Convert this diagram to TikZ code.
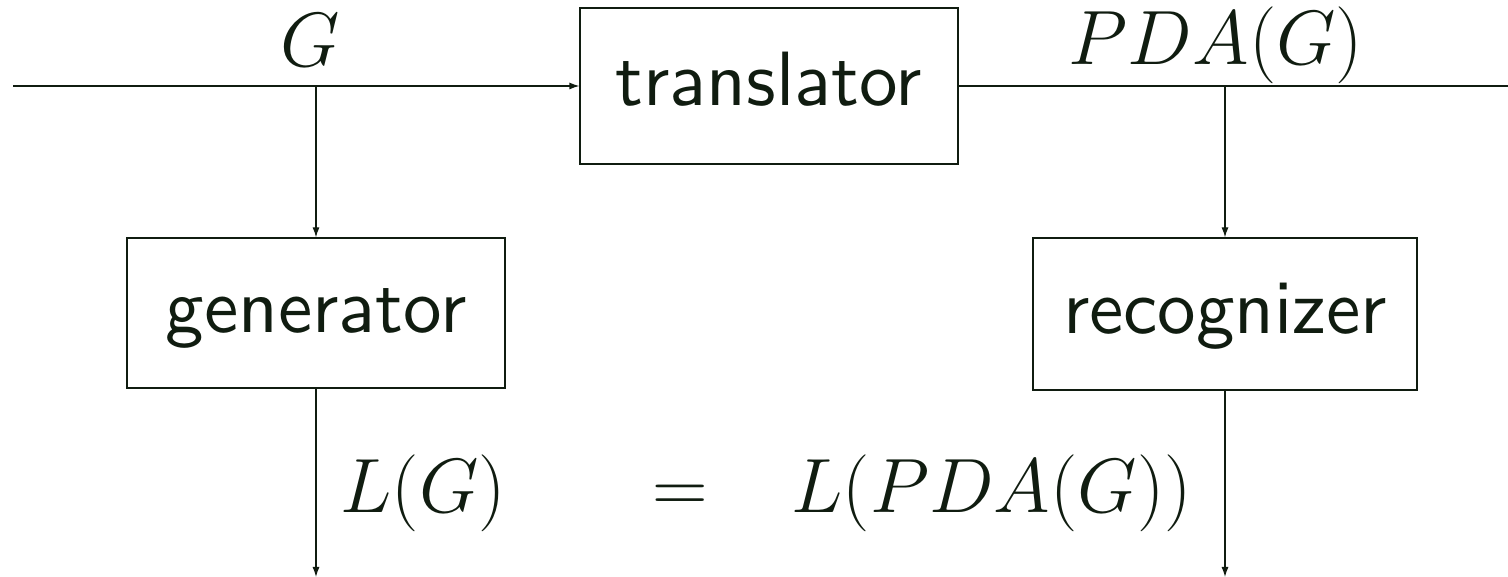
\RequirePackage{fix-cm}
\documentclass[tikz,border=0pt]{standalone}
\usepackage{fontspec}
\newfontfamily\sansten{lmsans10-regular}[Extension=.otf]
\usetikzlibrary{arrows.meta}
\definecolor{ink}{RGB}{16,28,16}
\begin{document}
\begin{tikzpicture}[x=1pt,y=1pt,
  ink, line width=1.2pt,
  every node/.style={ink},
  blockbox/.style={draw, inner sep=0pt, text height=40pt, text depth=0pt,
    font=\fontsize{77}{80}\selectfont\sansten},
  mathlbl/.style={inner sep=0pt, font=\fontsize{77}{80}\selectfont},
  flow/.style={-{Latex[length=10pt,width=7pt]}}]
\useasboundingbox (0,0) rectangle (1508,577);
% boxes
\node[blockbox, minimum width=378pt, minimum height=156pt] (trans) at (769,491) {translator};
\node[blockbox, minimum width=378pt, minimum height=150pt] (gen) at (316,264) {generator};
\node[blockbox, minimum width=384pt, minimum height=152pt] (rec) at (1225,263) {recognizer};
% coordinates
\coordinate (in) at (13,491);
\coordinate (out) at (1508,491);
\coordinate (b1) at (316,491);
\coordinate (b2) at (1225,491);
\coordinate (e1) at (316,0);
\coordinate (e2) at (1225,0);
% connectors
\draw[flow] (in) -- (trans.west);
\draw (trans.east) -- (out);
\draw[flow] (b1) -- (gen.north);
\draw[flow] (b2) -- (rec.north);
\draw[flow] (gen.south) -- (e1);
\draw[flow] (rec.south) -- (e2);
% labels
\node[mathlbl, anchor=base] (lg) at (310,510) {$G$};
\node[mathlbl, anchor=base] (lpda) at (1216,512) {$PDA(G)$};
\node[mathlbl, anchor=base west] (llg) at (340,64) {$L(G)$};
\node[mathlbl, anchor=base] (leq) at (680,64) {$=$};
\node[mathlbl, anchor=base west] (llpda) at (791,64) {$L(PDA(G))$};
\end{tikzpicture}
\end{document}
